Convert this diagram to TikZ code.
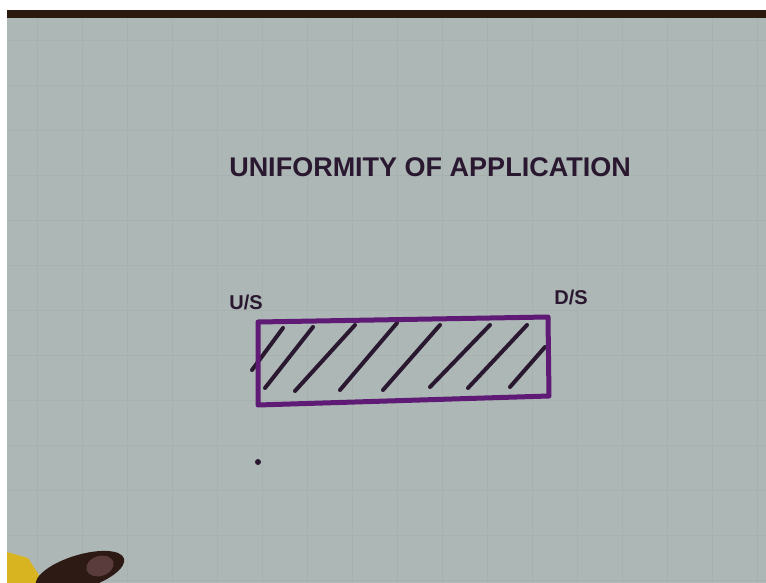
\documentclass[tikz,border=0pt]{standalone}
\usepackage{fontspec}
\setmainfont{Liberation Sans}
\usepackage{tikz}
\usetikzlibrary{positioning}
\definecolor{paper}{HTML}{ADB7B6}
\definecolor{gridline}{HTML}{A7B1B0}
\definecolor{ink}{HTML}{2A1830}
\definecolor{marker}{HTML}{5E1A74}
\definecolor{edge}{HTML}{2B1A0E}
\definecolor{skin}{HTML}{2E1A14}
\definecolor{nail}{HTML}{5A3C3C}
\definecolor{pencil}{HTML}{D8B420}

\begin{document}
\begin{tikzpicture}[
  x=1pt, y=-1pt,
  endlabel/.style={text=ink, inner sep=0pt, font=\fontsize{20}{20}\selectfont\bfseries},
  heading/.style={text=ink, inner sep=0pt, font=\fontsize{27}{27}\selectfont\bfseries},
  frame/.style={draw=marker, line width=5pt, line join=round},
  hatch/.style={draw=ink, line width=4pt, line cap=round}
]
\fill[white] (0,0) rectangle (766,583);
\useasboundingbox (0,0) rectangle (766,583);
% paper sheet
\fill[paper] (7,17) rectangle (766,583);
\fill[edge] (7,10) rectangle (766,18);
\foreach \gx in {37,82,...,766} \draw[gridline, line width=0.5pt] (\gx,18) -- (\gx,583);
\foreach \gy in {40,85,...,583} \draw[gridline, line width=0.5pt] (7,\gy) -- (766,\gy);

\node[heading] (title) at (430,167) {UNIFORMITY OF APPLICATION};

% strip of field
\coordinate (nw) at (258,322);
\coordinate (ne) at (548,317);
\coordinate (se) at (549,396);
\coordinate (sw) at (258,405);
\draw[hatch] (252,370) -- (283,328);
\draw[hatch] (265,388) -- (313,327);
\draw[hatch] (295,391) -- (355,325);
\draw[hatch] (340,390) -- (397,323);
\draw[hatch] (383,390) -- (440,325);
\draw[hatch] (430,387) -- (490,325);
\draw[hatch] (468,388) -- (527,325);
\draw[hatch] (510,387) -- (545,347);
\draw[frame] (nw) -- (ne) -- (se) -- (sw) -- cycle;

\node[endlabel] (us) at (246,302) {U/S};
\node[endlabel] (ds) at (571,297) {D/S};
\node[circle, fill=ink, inner sep=0pt, minimum size=6pt] (dot) at (258,462) {};

% hand at the corner
\fill[pencil] (7,552) -- (28,558) -- (44,583) -- (7,583) -- cycle;
\fill[skin, rotate around={17:(80,572)}] (80,572) ellipse (46 and 17);
\fill[nail, rotate around={17:(100,566)}] (100,566) ellipse (14 and 10);
\end{tikzpicture}
\end{document}
